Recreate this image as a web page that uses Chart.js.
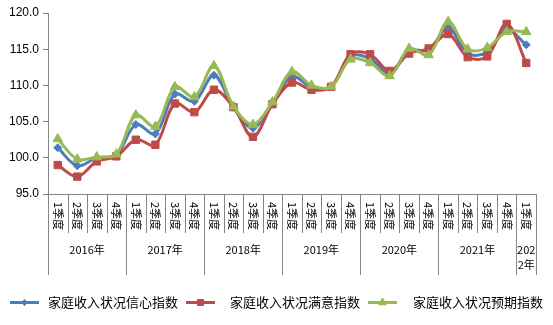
<!DOCTYPE html>
<html>
<head>
<meta charset="utf-8">
<script src="https://cdn.jsdelivr.net/npm/chart.js@4.4.1/dist/chart.umd.min.js"></script>
<style>
  html, body { margin: 0; padding: 0; background: #fff; }
  #wrap { width: 553px; height: 325px; position: relative; }
</style>
</head>
<body>
<div id="wrap"><canvas id="c" width="553" height="325"></canvas></div>
<script>
// 家庭收入状况指数 2016年1季度 — 2022年1季度
const quarters = [
  "1季度", "2季度", "3季度", "4季度", "1季度", "2季度", "3季度", "4季度",
  "1季度", "2季度", "3季度", "4季度", "1季度", "2季度", "3季度", "4季度",
  "1季度", "2季度", "3季度", "4季度", "1季度", "2季度", "3季度", "4季度",
  "1季度",
];
const years = [
  { text: ["2016年"], from: 0, to: 3 },
  { text: ["2017年"], from: 4, to: 7 },
  { text: ["2018年"], from: 8, to: 11 },
  { text: ["2019年"], from: 12, to: 15 },
  { text: ["2020年"], from: 16, to: 19 },
  { text: ["2021年"], from: 20, to: 23 },
  { text: ["202", "2年"], from: 24, to: 24 },
];
const confidence = [
  101.4, 98.9, 100.0, 100.4, 104.6, 103.3, 108.8, 107.8, 111.4, 107.0, 104.1, 107.6,
  111.2, 109.8, 109.8, 114.0, 113.7, 111.6, 114.8, 114.9, 118.0, 114.4, 114.6, 117.7,
  115.6,
];
const satisfaction = [
  99.0, 97.4, 99.5, 100.2, 102.5, 101.8, 107.5, 106.3, 109.4, 107.0, 102.9, 107.4,
  110.4, 109.4, 109.8, 114.3, 114.3, 112.0, 114.4, 115.1, 117.1, 113.9, 114.0, 118.5,
  113.1,
];
const expectation = [
  102.6, 99.8, 100.1, 100.5, 105.9, 104.3, 109.8, 108.4, 112.7, 107.1, 104.6, 107.7,
  111.9, 110.0, 109.8, 113.6, 113.1, 111.3, 115.1, 114.2, 118.8, 115.0, 115.2, 117.4,
  117.4,
];

const BLUE = "#4a7ebb", RED = "#be4b48", GREEN = "#98b954", AXIS = "#868686";
const FONT = "'Liberation Sans', Arial, sans-serif";
const CJK = "'Noto Sans CJK SC', 'Liberation Sans', sans-serif";

const series = [
  { label: "家庭收入状况信心指数", data: confidence, color: BLUE, style: "rectRot", r: 4, order: 2 },
  { label: "家庭收入状况满意指数", data: satisfaction, color: RED, style: "rect", r: 5.2, order: 1 },
  { label: "家庭收入状况预期指数", data: expectation, color: GREEN, style: "triangle", r: 5.5, order: 0 },
];

// 双层分类轴：季度竖排 + 年份，以及分隔线
const categoryAxis = {
  id: "categoryAxis",
  afterDraw(chart) {
    const { ctx, scales: { x } } = chart;
    const top = x.top;
    const step = x.getPixelForValue(1) - x.getPixelForValue(0);
    const edge = (i) => x.getPixelForValue(i) - step / 2;
    ctx.save();
    ctx.strokeStyle = AXIS;
    ctx.lineWidth = 1;
    for (let i = 0; i <= quarters.length; i++) {
      const isYear = years.some(y => y.from === i) || i === quarters.length;
      const px = Math.round(edge(i)) + 0.5;
      ctx.beginPath();
      ctx.moveTo(px, top);
      ctx.lineTo(px, top + (isYear ? 81 : 39));
      ctx.stroke();
    }
    ctx.fillStyle = "#000";
    ctx.font = "11px " + CJK;
    ctx.textAlign = "center";
    ctx.textBaseline = "middle";
    quarters.forEach((q, i) => {
      ctx.save();
      ctx.translate(x.getPixelForValue(i), top + 22);
      ctx.rotate(Math.PI / 2);
      ctx.fillText(q, 0, 0);
      ctx.restore();
    });
    years.forEach(y => {
      const cx = (edge(y.from) + edge(y.to + 1)) / 2;
      y.text.forEach((t, k) => ctx.fillText(t, cx, top + 56 + k * 15));
    });
    ctx.restore();
  },
};

// 底部图例（线段 + 标记）
const bottomLegend = {
  id: "bottomLegend",
  afterDraw(chart) {
    const { ctx } = chart;
    const cy = 302.5;
    const items = [
      { x0: 10, x1: 39, tx: 48 },
      { x0: 186, x1: 215, tx: 230 },
      { x0: 368, x1: 397, tx: 413 },
    ];
    ctx.save();
    series.forEach((s, i) => {
      const it = items[i];
      ctx.strokeStyle = s.color;
      ctx.lineWidth = 3;
      ctx.beginPath();
      ctx.moveTo(it.x0, cy);
      ctx.lineTo(it.x1, cy);
      ctx.stroke();
      ctx.fillStyle = s.color;
      ctx.lineWidth = 1;
      Chart.helpers.drawPoint(ctx, { pointStyle: s.style, radius: s.r - 1, rotation: 0, borderWidth: 1 },
        (it.x0 + it.x1) / 2, cy);
      ctx.fillStyle = "#000";
      ctx.font = "13px " + CJK;
      ctx.textAlign = "left";
      ctx.textBaseline = "middle";
      ctx.fillText(s.label, it.tx, cy);
    });
    ctx.restore();
  },
};

new Chart(document.getElementById("c"), {
  type: "line",
  data: {
    labels: quarters,
    datasets: series.map(s => ({
      label: s.label, data: s.data, order: s.order,
      borderColor: s.color, backgroundColor: s.color, borderWidth: 3,
      pointStyle: s.style, pointRadius: s.r, pointBorderWidth: 1,
      pointBackgroundColor: s.color, pointBorderColor: s.color,
      tension: 0.35, fill: false,
    })),
  },
  options: {
    responsive: false, animation: false,
    layout: { padding: { top: 13, right: 17, left: 0, bottom: 0 } },
    plugins: { legend: { display: false }, tooltip: { enabled: false } },
    scales: {
      x: {
        offset: true,
        grid: { display: false },
        border: { display: true, color: AXIS },
        ticks: { display: false },
        afterFit(s) { s.height = 131; },
      },
      y: {
        min: 95, max: 120,
        grid: { drawOnChartArea: false, color: AXIS, tickLength: 5 },
        border: { color: AXIS },
        ticks: {
          stepSize: 5, padding: 4, color: "#000",
          font: { family: FONT, size: 12 },
          callback: v => v.toFixed(1),
        },
        afterFit(s) { s.width = 48; },
      },
    },
  },
  plugins: [categoryAxis, bottomLegend],
});
</script>
</body>
</html>
